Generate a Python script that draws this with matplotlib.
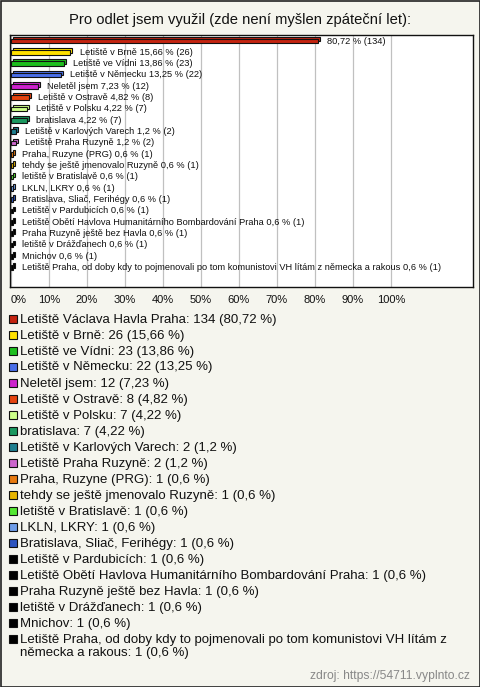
import textwrap
import matplotlib
matplotlib.use("Agg")
import matplotlib.pyplot as plt
import matplotlib.transforms as mtransforms
from matplotlib.patches import Rectangle

plt.rcParams['font.family'] = ['Liberation Sans', 'DejaVu Sans']

title = "Pro odlet jsem využil (zde není myšlen zpáteční let):"
source = "zdroj: https://54711.vyplnto.cz"

categories = [
    "Letiště Václava Havla Praha",
    "Letiště v Brně",
    "Letiště ve Vídni",
    "Letiště v Německu",
    "Neletěl jsem",
    "Letiště v Ostravě",
    "Letiště v Polsku",
    "bratislava",
    "Letiště v Karlových Varech",
    "Letiště Praha Ruzyně",
    "Praha, Ruzyne (PRG)",
    "tehdy se ještě jmenovalo Ruzyně",
    "letiště v Bratislavě",
    "LKLN, LKRY",
    "Bratislava, Sliač, Ferihégy",
    "Letiště v Pardubicích",
    "Letiště Obětí Havlova Humanitárního Bombardování Praha",
    "Praha Ruzyně ještě bez Havla",
    "letiště v Drážďanech",
    "Mnichov",
    "Letiště Praha, od doby kdy to pojmenovali po tom komunistovi VH lítám z německa a rakous",
]
counts = [134, 26, 23, 22, 12, 8, 7, 7, 2, 2, 1, 1, 1, 1, 1, 1, 1, 1, 1, 1, 1]
percents = [80.72, 15.66, 13.86, 13.25, 7.23, 4.82, 4.22, 4.22, 1.2, 1.2,
            0.6, 0.6, 0.6, 0.6, 0.6, 0.6, 0.6, 0.6, 0.6, 0.6, 0.6]
colors = ["#c42410", "#ffe000", "#1ebf1e", "#4a6fe8", "#cc22cc", "#e6440f",
          "#ccff88", "#1b9960", "#1e7f8f", "#cc66cc", "#e87a10", "#e6b400",
          "#55e833", "#6f9de8", "#2e55c0", "#000000", "#000000", "#000000",
          "#000000", "#000000", "#000000"]
xticks = [0, 10, 20, 30, 40, 50, 60, 70, 80, 90, 100]
xticklabels = ["0%", "10%", "20%", "30%", "40%", "50%", "60%", "70%", "80%", "90%", "100%"]

W, H = 480, 687
BG = "#f5f5ee"
fig = plt.figure(figsize=(W / 100, H / 100), dpi=100, facecolor=BG)

def fy(py):
    return 1 - py / H

def fx(px):
    return px / W

# border
fig.add_artist(Rectangle((0.5 / W, 0.5 / H), 1 - 1.0 / W, 1 - 1.0 / H,
                         transform=fig.transFigure, fill=False,
                         edgecolor="#222222", linewidth=1.2))

fig.text(0.5, fy(20), title, ha="center", va="center", fontsize=10.65, color="#111111")

ax = fig.add_axes([fx(10), fy(287), fx(463), (287 - 35) / H])
ax.set_facecolor("white")
n = len(categories)
ypos = list(range(n))
ax.set_xlim(-0.26, 121.6)
ax.set_ylim((287 - 41) / 11.33, (35 - 41) / 11.33)
for s in ax.spines.values():
    s.set_color("#111111")
    s.set_linewidth(1.0)
ax.set_xticks(xticks)
ax.set_xticklabels(xticklabels)
ax.tick_params(axis="x", length=0, pad=5.5, labelsize=8, colors="#111111")
ax.set_yticks([])
ax.grid(axis="x", color="#c0c0c0", linewidth=0.9)
ax.set_axisbelow(True)

# 3D look: back face offset up/right
off = mtransforms.ScaledTranslation(2 / 100, 2 / 100, fig.dpi_scale_trans)
bh = 0.4
ax.barh(ypos, percents, height=bh, color=colors, edgecolor="#111111",
        linewidth=0.8, transform=ax.transData + off, zorder=2)
ax.barh(ypos, percents, height=bh, color=colors, edgecolor="#111111",
        linewidth=0.8, zorder=3)

for i, (c, p, k) in enumerate(zip(categories, percents, counts)):
    ps = str(p).replace(".", ",")
    if i == 0:
        lab = f"{ps} % ({k})"
    else:
        lab = f"{c} {ps} % ({k})"
    ax.annotate(lab, xy=(p, i), xytext=(6.5, 0), textcoords="offset points",
                ha="left", va="center", fontsize=6.65, color="#111111", zorder=4)

# first tick label left-aligned
tl = ax.get_xticklabels()
tl[0].set_ha("left")
tl[0].set_x(0)

# legend
ly0 = 321
lstep = 16
row = 0
for i, (c, p, k, col) in enumerate(zip(categories, percents, counts, colors)):
    ps = str(p).replace(".", ",")
    txt = textwrap.fill(f"{c}: {k} ({ps} %)", 74)
    y = ly0 + row * lstep
    fig.add_artist(Rectangle((fx(8.5), fy(y + 2)), 8 / W, 8 / H,
                             transform=fig.transFigure, facecolor=col,
                             edgecolor="#111111", linewidth=0.8))
    fig.text(fx(20), fy(y - 7.5), txt, ha="left", va="top", fontsize=9.5,
             color="#111111", linespacing=1.2)
    row += txt.count("\n") + 1

fig.text(fx(470), fy(676), source, ha="right", va="center", fontsize=8.7, color="#888888")

fig.savefig("out.png", dpi=100, facecolor=BG)
